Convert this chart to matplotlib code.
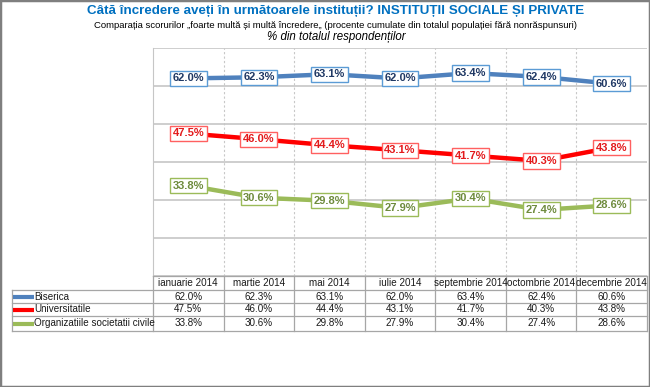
import matplotlib
matplotlib.use('Agg')
import matplotlib.pyplot as plt
import matplotlib.transforms as mtransforms
from matplotlib.lines import Line2D
from matplotlib.patches import Rectangle
import numpy as np

plt.rcParams['font.family'] = ['Liberation Sans', 'DejaVu Sans']

# ---- data ----
months = ['ianuarie 2014', 'martie 2014', 'mai 2014', 'iulie 2014',
          'septembrie 2014', 'octombrie 2014', 'decembrie 2014']
series_names = ['Biserica', 'Universitatile', 'Organizatiile societatii civile']
biserica = [62.0, 62.3, 63.1, 62.0, 63.4, 62.4, 60.6]
universitatile = [47.5, 46.0, 44.4, 43.1, 41.7, 40.3, 43.8]
organizatii = [33.8, 30.6, 29.8, 27.9, 30.4, 27.4, 28.6]

title = 'Câtă încredere aveți în următoarele instituții? INSTITUȚII SOCIALE ȘI PRIVATE'
subtitle = ('Comparația scorurilor „foarte multă și multă încredere„ '
            '(procente cumulate din totalul populației fără nonrăspunsuri)')
subtitle2 = '% din totalul respondenților'

LINE_COLORS = ['#4F81BD', '#FF0000', '#9BBB59']
TEXT_COLORS = ['#1F3864', '#E31A1C', '#6E8B3D']
EDGE_COLORS = ['#5B9BD5', '#FF6060', '#9BBB59']
GRID = '#C6C6C6'

W, H = 650, 387
fig = plt.figure(figsize=(W / 100, H / 100), dpi=100)


def fx(px):
    return px / W


def fy(py):
    return 1 - py / H


# ---- plot area ----
ax = fig.add_axes([fx(153), fy(276), fx(647) - fx(153), fy(48) - fy(276)])
x = np.arange(len(months))
all_series = [biserica, universitatile, organizatii]

for vals, lc, tc, ec in zip(all_series, LINE_COLORS, TEXT_COLORS, EDGE_COLORS):
    ax.plot(x, vals, color=lc, lw=3.2, solid_capstyle='butt', zorder=3)
    for xi, v in zip(x, vals):
        ax.text(xi, v, f'{v:.1f}%', ha='center', va='center', fontsize=8,
                fontweight='bold', color=tc, zorder=4,
                bbox=dict(boxstyle='square,pad=0.24', fc='white', ec=ec, lw=1))

ax.set_xlim(-0.5, len(months) - 0.5)
ax.set_ylim(10, 70)
ax.set_yticks(np.arange(10, 71, 10))
ax.set_xticks([])
ax.set_xticks(np.arange(0.5, len(months) - 1, 1), minor=True)
ax.tick_params(which='both', length=0, labelleft=False, labelbottom=False)
ax.yaxis.grid(True, color=GRID, lw=1.2)
ax.xaxis.grid(True, which='minor', color='#C8C8C8', lw=0.8, ls=(0, (2, 2)))
ax.set_axisbelow(True)
for side in ['top', 'right', 'bottom']:
    ax.spines[side].set_visible(False)
ax.spines['left'].set_color(GRID)

# ---- titles ----
fig.text(fx(336), fy(11), title, ha='center', va='center', fontsize=9.6,
         fontweight='bold', color='#0070C0')
fig.text(fx(336), fy(25), subtitle, ha='center', va='center', fontsize=6.8,
         color='black')
fig.text(fx(336), fy(37), subtitle2, ha='center', va='center', fontsize=8.3,
         style='italic', color='black')

# ---- data table under the plot ----
trans = mtransforms.blended_transform_factory(ax.transData, fig.transFigure)
TLINE = '#A6A6A6'
header_y = 283
row_lines = [290, 303, 316, 331]
row_y = [296.5, 309.5, 323.5]

for i, m in enumerate(months):
    fig.text(i, fy(header_y), m, transform=trans, ha='center', va='center',
             fontsize=7.1, color='#1a1a1a')
    for r, vals in enumerate(all_series):
        fig.text(i, fy(row_y[r]), f'{vals[i]:.1f}%', transform=trans,
                 ha='center', va='center', fontsize=7.1, color='#1a1a1a')

# horizontal table lines
fig.add_artist(Line2D([fx(153), fx(647)], [fy(276), fy(276)], color=TLINE, lw=0.9))
for yy in row_lines:
    fig.add_artist(Line2D([fx(12), fx(647)], [fy(yy), fy(yy)], color=TLINE, lw=0.9))
# vertical table lines
for b in np.arange(-0.5, len(months), 1):
    fig.add_artist(Line2D([b, b], [fy(276), fy(331)], transform=trans,
                          color=TLINE, lw=0.9))
fig.add_artist(Line2D([fx(12), fx(12)], [fy(290), fy(331)], color=TLINE, lw=0.9))

# row labels with legend keys
for name, lc, yy in zip(series_names, LINE_COLORS, row_y):
    fig.add_artist(Line2D([fx(13), fx(34)], [fy(yy), fy(yy)], color=lc, lw=3,
                          solid_capstyle='butt'))
    fig.text(fx(34.5), fy(yy), name, ha='left', va='center', fontsize=7.1,
             color='#1a1a1a')

# outer frame
fig.add_artist(Rectangle((0, 0), 1, 1, transform=fig.transFigure, fill=False,
                         ec='#7F7F7F', lw=2.5))

fig.savefig('out.png', dpi=100)
